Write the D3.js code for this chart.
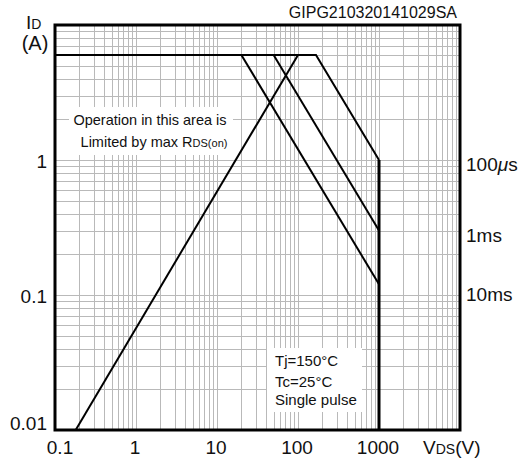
<!DOCTYPE html>
<html><head><meta charset="utf-8">
<script src="https://cdn.jsdelivr.net/npm/d3@7"></script>
<style>
body{margin:0;background:#fff;}
text{font-family:"Liberation Sans",Arial,Helvetica,sans-serif;fill:#111;}
</style></head>
<body><svg id="c" width="527" height="463"></svg>
<script>
// ---- data ----
const xTicks = [0.1, 1, 10, 100, 1000];
const xTickLabels = ["0.1", "1", "10", "100", "1000"];
const yTicks = [0.01, 0.1, 1];
const yTickLabels = ["0.01", "0.1", "1"];
const xDomain = [0.1, 10000];
const yDomain = [0.01, 10];
const idMax = 6;            // A, pulsed drain current limit
const vdsMax = 1000;        // V, breakdown limit
const pulseNames = ["100μs", "1ms", "10ms"];
const kneeV = [166.7, 50, 20];      // V where power limit starts
const endI = [1.0, 0.3, 0.12];      // A at vdsMax
const rdsV = [0.18, 100];           // R_DS(on) limit line, V
const rdsI = [0.01, 6];             // R_DS(on) limit line, A
const notes = ["Tj=150°C", "Tc=25°C", "Single pulse"];

const svg = d3.select("#c");
const L = 55, R = 460, T = 25, B = 430;
const x = d3.scaleLog().domain(xDomain).range([L, R]);
const y = d3.scaleLog().domain(yDomain).range([B, T]);

// grid
const gx = [], gy = [];
for (let e = -1; e < 4; e++) for (let m = 1; m <= 9; m++) gx.push(m * Math.pow(10, e));
for (let e = -2; e < 1; e++) for (let m = 1; m <= 9; m++) gy.push(m * Math.pow(10, e));
const grid = svg.append("g").attr("stroke", "#b9b9b9").attr("stroke-width", 1).attr("shape-rendering", "crispEdges");
grid.selectAll(".vx").data(gx.slice(1)).join("line")
  .attr("x1", d => Math.round(x(d)) + 0.5).attr("x2", d => Math.round(x(d)) + 0.5).attr("y1", T).attr("y2", B);
grid.selectAll(".hy").data(gy.slice(1)).join("line")
  .attr("y1", d => Math.round(y(d)) + 0.5).attr("y2", d => Math.round(y(d)) + 0.5).attr("x1", L).attr("x2", R);

// white annotation boxes
svg.append("rect").attr("x", 69).attr("y", 107).attr("width", 164).attr("height", 48).attr("fill", "#fff");
svg.append("rect").attr("x", 267).attr("y", 348).attr("width", 95).attr("height", 64).attr("fill", "#fff");

// SOA lines
const line = d3.line().x(d => x(d[0])).y(d => y(d[1]));
const g = svg.append("g").attr("fill", "none").attr("stroke", "#000").attr("stroke-width", 2).attr("stroke-linejoin", "miter");
// envelope: Id max, 100us power limit
g.append("path").attr("d", line([[xDomain[0], idMax], [kneeV[0], idMax], [vdsMax, endI[0]]]));
// Vds max
g.append("path").attr("stroke-width", 3).attr("d", line([[vdsMax, endI[0]], [vdsMax, yDomain[0]]]));
for (let i = 1; i < kneeV.length; i++) {
  g.append("path").attr("d", line([[kneeV[i], idMax], [vdsMax, endI[i]]]));
}
g.append("path").attr("d", line(rdsV.map((v, i) => [v, rdsI[i]])));

// frame
svg.append("rect").attr("x", L).attr("y", T).attr("width", R - L).attr("height", B - T)
  .attr("fill", "none").attr("stroke", "#000").attr("stroke-width", 3);

// x tick labels
svg.selectAll(".xt").data(xTicks).join("text")
  .attr("x", (d, i) => x(d) + (i === 0 ? 5 : -1)).attr("y", 454)
  .attr("text-anchor", "middle").attr("font-size", 19).text((d, i) => xTickLabels[i]);
// y tick labels
svg.selectAll(".yt").data(yTicks).join("text")
  .attr("x", 47).attr("y", d => Math.min(y(d) + 8, 430))
  .attr("text-anchor", "end").attr("font-size", 19).text((d, i) => yTickLabels[i]);

// right labels for pulse widths
const rY = [171, 242, 301];
pulseNames.forEach((n, i) => {
  const t = svg.append("text").attr("x", 466).attr("y", rY[i]).attr("font-size", 19);
  if (n.includes("μ")) {
    t.append("tspan").text("100");
    t.append("tspan").attr("font-style", "italic").text("μ");
    t.append("tspan").text("s");
  } else t.text(n);
});

// axis titles
const xt = svg.append("text").attr("x", 423).attr("y", 454).attr("font-size", 19);
xt.append("tspan").text("V");
xt.append("tspan").attr("font-size", 14).text("DS");
xt.append("tspan").text("(V)");
const yt = svg.append("text").attr("x", 26).attr("y", 29).attr("font-size", 19);
yt.append("tspan").text("I");
yt.append("tspan").attr("font-size", 14).text("D");
svg.append("text").attr("x", 35).attr("y", 50).attr("text-anchor", "middle").attr("font-size", 20).text("(A)");

// code
svg.append("text").attr("x", 457).attr("y", 18).attr("text-anchor", "end").attr("font-size", 16).text("GIPG210320141029SA");

// annotation 1
svg.append("text").attr("x", 150).attr("y", 125).attr("text-anchor", "middle").attr("font-size", 14.5).text("Operation in this area is");
const a2 = svg.append("text").attr("x", 154).attr("y", 147).attr("text-anchor", "middle").attr("font-size", 14.5);
a2.append("tspan").text("Limited by max R");
a2.append("tspan").attr("font-size", 11).text("DS(on)");

// annotation 2
const nY = [366, 387, 405];
svg.selectAll(".nt").data(notes).join("text")
  .attr("x", 275).attr("y", (d, i) => nY[i]).attr("font-size", 15).text(d => d);
</script></body></html>
